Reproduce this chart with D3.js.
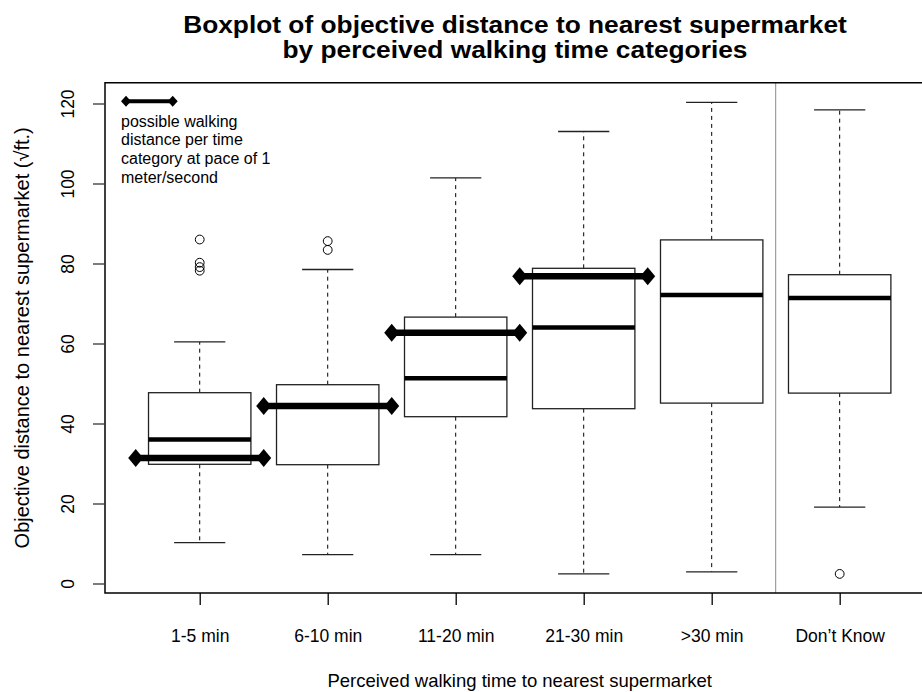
<!DOCTYPE html>
<html>
<head>
<meta charset="utf-8">
<script src="https://cdn.jsdelivr.net/npm/d3@7"></script>
<style>
  html, body { margin: 0; padding: 0; background: #fff; }
  svg { display: block; }
  text { font-family: "Liberation Sans", Arial, Helvetica, sans-serif; fill: #000; }
</style>
</head>
<body>
<svg id="chart" width="922" height="692"></svg>
<script>
// ---------------- data ----------------
const categories = ["1-5 min", "6-10 min", "11-20 min", "21-30 min", ">30 min", "Don’t Know"];
const lowerWhisker = [10.2, 7.2, 7.2, 2.4, 2.9, 19.1];
const q1 = [29.8, 29.7, 41.7, 43.7, 45.1, 47.6];
const medians = [36.0, 44.3, 51.3, 64.0, 72.1, 71.4];
const q3 = [47.7, 49.7, 66.6, 78.8, 85.9, 77.2];
const upperWhisker = [60.4, 78.5, 101.4, 113.0, 120.3, 118.4];
const outliers = [[86.0, 80.2, 79.1, 78.2], [85.6, 83.4], [], [], [], [2.4]];
const walkingDistance = [31.4, 44.4, 62.7, 76.8]; // sqrt(ft) walked in 5/10/20/30 min at 1 m/s
const yTicks = [0, 20, 40, 60, 80, 100, 120];
const titleLines = ["Boxplot of objective distance to nearest supermarket", "by perceived walking time categories"];
const xTitle = "Perceived walking time to nearest supermarket";
const yTitle = "Objective distance to nearest supermarket (√ft.)";
const legendLines = ["possible walking", "distance per time", "category at pace of 1", "meter/second"];

// ---------------- layout ----------------
const svg = d3.select("#chart");
const pLeft = 105, pRight = 934.4, pTop = 82.7, pBottom = 593;
const x = d3.scaleLinear().domain([0.26, 6.74]).range([pLeft, pRight]);
const y = d3.scaleLinear().domain([-2.375, 125.2]).range([pBottom, pTop]);

const boxes = categories.map((c, i) => ({
  cat: c, pos: i + 1,
  lo: lowerWhisker[i], q1: q1[i], med: medians[i], q3: q3[i], hi: upperWhisker[i], out: outliers[i]
}));

// separator for "Don't Know"
svg.append("line")
  .attr("x1", x(5.5)).attr("x2", x(5.5)).attr("y1", pTop).attr("y2", pBottom)
  .attr("stroke", "#8a8a8a").attr("stroke-width", 1);

const g = svg.append("g");
const bg = g.selectAll("g.box").data(boxes).join("g").attr("class", "box");

// whiskers (dashed)
bg.append("line")
  .attr("x1", d => x(d.pos)).attr("x2", d => x(d.pos))
  .attr("y1", d => y(d.q3)).attr("y2", d => y(d.hi))
  .attr("stroke", "#000").attr("stroke-width", 1).attr("stroke-dasharray", "4,4");
bg.append("line")
  .attr("x1", d => x(d.pos)).attr("x2", d => x(d.pos))
  .attr("y1", d => y(d.q1)).attr("y2", d => y(d.lo))
  .attr("stroke", "#000").attr("stroke-width", 1).attr("stroke-dasharray", "4,4");
// caps
bg.append("line")
  .attr("x1", d => x(d.pos - 0.2)).attr("x2", d => x(d.pos + 0.2))
  .attr("y1", d => y(d.hi)).attr("y2", d => y(d.hi))
  .attr("stroke", "#222").attr("stroke-width", 1.3);
bg.append("line")
  .attr("x1", d => x(d.pos - 0.2)).attr("x2", d => x(d.pos + 0.2))
  .attr("y1", d => y(d.lo)).attr("y2", d => y(d.lo))
  .attr("stroke", "#222").attr("stroke-width", 1.3);
// box
bg.append("rect")
  .attr("x", d => x(d.pos - 0.4)).attr("width", d => x(d.pos + 0.4) - x(d.pos - 0.4))
  .attr("y", d => y(d.q3)).attr("height", d => y(d.q1) - y(d.q3))
  .attr("fill", "#fff").attr("stroke", "#222").attr("stroke-width", 1.3);
// median
bg.append("line")
  .attr("x1", d => x(d.pos - 0.4)).attr("x2", d => x(d.pos + 0.4))
  .attr("y1", d => y(d.med)).attr("y2", d => y(d.med))
  .attr("stroke", "#000").attr("stroke-width", 4.5);
// outliers
bg.selectAll("circle").data(d => d.out.map(v => ({ pos: d.pos, v })))
  .join("circle")
  .attr("cx", d => x(d.pos)).attr("cy", d => y(d.v)).attr("r", 4.4)
  .attr("fill", "none").attr("stroke", "#000").attr("stroke-width", 1);

// walking distance reference lines with diamonds
const diamond = (w, h) => `M0,${-h / 2}L${w / 2},0L0,${h / 2}L${-w / 2},0Z`;
const refs = walkingDistance.map((v, i) => ({ pos: i + 1, v }));
const rg = svg.append("g").selectAll("g").data(refs).join("g");
rg.append("line")
  .attr("x1", d => x(d.pos - 0.5)).attr("x2", d => x(d.pos + 0.5))
  .attr("y1", d => y(d.v)).attr("y2", d => y(d.v))
  .attr("stroke", "#000").attr("stroke-width", 6.5);
rg.selectAll("path").data(d => [d.pos - 0.5, d.pos + 0.5].map(p => ({ p, v: d.v })))
  .join("path")
  .attr("transform", d => `translate(${x(d.p)},${y(d.v)})`)
  .attr("d", diamond(15, 18)).attr("fill", "#000");

// frame (right edge falls outside the canvas)
svg.append("path")
  .attr("d", `M${pRight},${pTop}H${pLeft}V${pBottom}H${pRight}`)
  .attr("fill", "none").attr("stroke", "#000").attr("stroke-width", 1.5);

// y axis
const yAxis = svg.append("g").attr("transform", `translate(${pLeft},0)`)
  .call(d3.axisLeft(y).tickValues(yTicks).tickSize(12).tickSizeOuter(0).tickFormat(d3.format("d")));
yAxis.select(".domain").remove();
yAxis.selectAll(".tick line").attr("stroke", "#333").attr("stroke-width", 1.3);
yAxis.selectAll(".tick text")
  .attr("x", null)
  .attr("transform", "translate(-37,0) rotate(-90)")
  .attr("text-anchor", "middle").attr("dy", "0.36em")
  .attr("font-size", 17.5).attr("fill", "#000");

// x axis
const xAxis = svg.append("g").attr("transform", `translate(0,${pBottom})`)
  .call(d3.axisBottom(x).tickValues(d3.range(1, 7)).tickSize(12).tickSizeOuter(0)
    .tickFormat(d => categories[d - 1]));
xAxis.select(".domain").remove();
xAxis.selectAll(".tick line").attr("stroke", "#000").attr("stroke-width", 1.3);
xAxis.selectAll(".tick text")
  .attr("y", 49).attr("dy", null)
  .attr("font-size", 17.5).attr("fill", "#000");

// titles
svg.append("g").selectAll("text").data(titleLines).join("text")
  .attr("transform", (d, i) => `translate(515,${32.5 + i * 25.5}) scale(1.12,1)`)
  .attr("text-anchor", "middle").attr("font-weight", "bold").attr("font-size", 23.5)
  .text(d => d);
svg.append("text")
  .attr("x", (pLeft + pRight) / 2).attr("y", 687)
  .attr("text-anchor", "middle").attr("font-size", 18.5)
  .text(xTitle);
svg.append("text")
  .attr("transform", `translate(29,${(pTop + pBottom) / 2}) rotate(-90)`)
  .attr("text-anchor", "middle").attr("font-size", 20)
  .text(yTitle);

// legend
const lg = svg.append("g");
lg.append("line").attr("x1", 126).attr("x2", 172.7).attr("y1", 101.3).attr("y2", 101.3)
  .attr("stroke", "#000").attr("stroke-width", 4);
lg.selectAll("path").data([126, 172.7]).join("path")
  .attr("transform", d => `translate(${d},101.3)`)
  .attr("d", diamond(10, 11)).attr("fill", "#000");
lg.selectAll("text").data(legendLines).join("text")
  .attr("x", 121).attr("y", (d, i) => 126.7 + i * 18.7)
  .attr("font-size", 16).text(d => d);
</script>
</body>
</html>
